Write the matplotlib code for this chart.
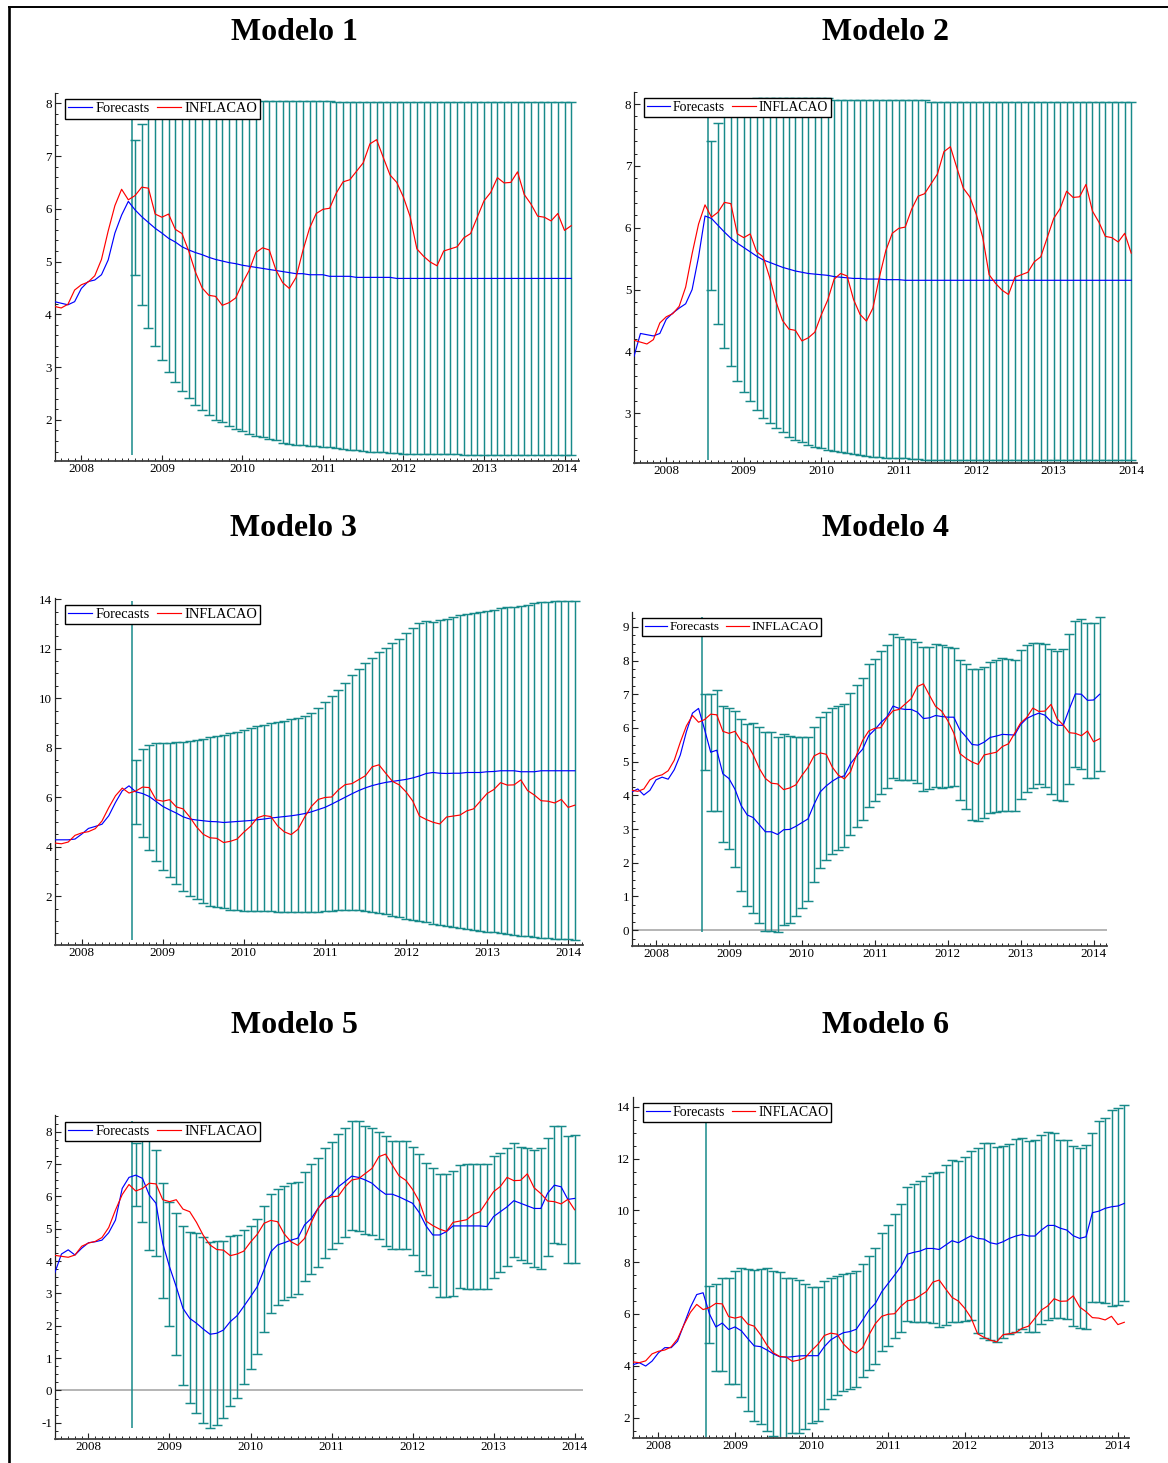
import numpy as np
import pandas as pd
import matplotlib
matplotlib.use("Agg")
import matplotlib.pyplot as plt
from matplotlib.lines import Line2D
from matplotlib.ticker import FixedLocator, MultipleLocator, FuncFormatter

plt.rcParams["font.family"] = ["Liberation Serif", "DejaVu Serif"]
plt.rcParams["axes.unicode_minus"] = False

W, H = 1168, 1463
TEAL = "#178a8a"

# IPCA 12-month inflation, Aug 2007 .. Feb 2014
inflacao = [4.18, 4.15, 4.12, 4.19, 4.46,
            4.56, 4.61, 4.73, 5.04, 5.58, 6.06, 6.37, 6.17, 6.25, 6.41, 6.39, 5.90,
            5.84, 5.90, 5.61, 5.53, 5.20, 4.80, 4.50, 4.36, 4.34, 4.17, 4.22, 4.31,
            4.59, 4.83, 5.17, 5.26, 5.22, 4.84, 4.60, 4.49, 4.70, 5.20, 5.63, 5.91,
            5.99, 6.01, 6.30, 6.51, 6.55, 6.71, 6.87, 7.23, 7.31, 6.97, 6.64, 6.50,
            6.22, 5.85, 5.24, 5.10, 4.99, 4.92, 5.20, 5.24, 5.28, 5.45, 5.53, 5.84,
            6.15, 6.31, 6.59, 6.49, 6.50, 6.70, 6.27, 6.09, 5.86, 5.84, 5.77, 5.91,
            5.59, 5.68]

# ---- Modelo 1 (Sep 2007 .. Feb 2014) ----
fit1 = [4.24, 4.21, 4.18, 4.24, 4.49, 4.62, 4.65, 4.75, 5.03, 5.54, 5.88, 6.14]
fc1 = [5.98, 5.85, 5.74, 5.63, 5.54, 5.44, 5.37, 5.28, 5.22, 5.17,
       5.13, 5.08, 5.04, 5.01, 4.98, 4.96, 4.93, 4.91, 4.89, 4.87,
       4.85, 4.83, 4.81, 4.79, 4.77, 4.77, 4.75, 4.75, 4.75, 4.72,
       4.72, 4.72, 4.72, 4.70, 4.70, 4.70, 4.70, 4.70, 4.70, 4.68,
       4.68, 4.68, 4.68, 4.68, 4.68, 4.68, 4.68, 4.68, 4.68, 4.68,
       4.68, 4.68, 4.68, 4.68, 4.68, 4.68, 4.68, 4.68, 4.68, 4.68,
       4.68, 4.68, 4.68, 4.68, 4.68, 4.68]
lo1 = [4.75, 4.18, 3.74, 3.39, 3.14, 2.90, 2.71, 2.55, 2.41, 2.28,
       2.19, 2.09, 2.00, 1.95, 1.89, 1.82, 1.78, 1.73, 1.70, 1.67,
       1.63, 1.61, 1.57, 1.54, 1.53, 1.52, 1.51, 1.50, 1.49, 1.48,
       1.46, 1.45, 1.43, 1.42, 1.41, 1.40, 1.39, 1.39, 1.38, 1.37,
       1.36, 1.36, 1.35, 1.35, 1.35, 1.35, 1.35, 1.35, 1.35, 1.34,
       1.34, 1.34, 1.34, 1.34, 1.34, 1.34, 1.34, 1.34, 1.34, 1.34,
       1.34, 1.34, 1.34, 1.34, 1.34, 1.34]
hi1 = [7.30, 7.60, 7.76, 7.90, 7.96, 8.00, 8.04, 8.05, 8.05, 8.05,
       8.05, 8.05, 8.05, 8.05, 8.05, 8.05, 8.05, 8.05, 8.05, 8.05,
       8.04, 8.04, 8.04, 8.04, 8.04, 8.04, 8.04, 8.04, 8.04, 8.04,
       8.03, 8.03, 8.03, 8.03, 8.03, 8.03, 8.03, 8.03, 8.03, 8.03,
       8.02, 8.02, 8.02, 8.02, 8.02, 8.02, 8.02, 8.02, 8.02, 8.02,
       8.02, 8.02, 8.02, 8.02, 8.02, 8.02, 8.02, 8.02, 8.02, 8.02,
       8.02, 8.02, 8.02, 8.02, 8.02, 8.02]

# ---- Modelo 2 (Aug 2007 .. Jan 2014) ----
fit2 = [3.92, 4.29, 4.27, 4.25, 4.29, 4.52, 4.62, 4.70, 4.77, 5.00, 5.53, 6.19]
fc2 = [6.15, 6.04, 5.93, 5.83, 5.75, 5.68, 5.61, 5.54, 5.48, 5.44,
       5.40, 5.36, 5.33, 5.30, 5.28, 5.26, 5.25, 5.24, 5.23, 5.21,
       5.20, 5.19, 5.18, 5.18, 5.17, 5.17, 5.17, 5.16, 5.16, 5.16,
       5.15, 5.15, 5.15, 5.15, 5.15, 5.15, 5.15, 5.15, 5.15, 5.15,
       5.15, 5.15, 5.15, 5.15, 5.15, 5.15, 5.15, 5.15, 5.15, 5.15,
       5.15, 5.15, 5.15, 5.15, 5.15, 5.15, 5.15, 5.15, 5.15, 5.15,
       5.15, 5.15, 5.15, 5.15, 5.15, 5.15]
lo2 = [5.00, 4.45, 4.06, 3.77, 3.52, 3.34, 3.19, 3.05, 2.93, 2.84,
       2.76, 2.69, 2.62, 2.57, 2.53, 2.49, 2.46, 2.43, 2.41, 2.39,
       2.37, 2.35, 2.34, 2.33, 2.31, 2.30, 2.29, 2.28, 2.28, 2.27,
       2.27, 2.26, 2.26, 2.25, 2.25, 2.25, 2.25, 2.25, 2.25, 2.25,
       2.25, 2.25, 2.25, 2.25, 2.25, 2.25, 2.25, 2.25, 2.25, 2.25,
       2.25, 2.25, 2.25, 2.25, 2.25, 2.25, 2.25, 2.25, 2.25, 2.25,
       2.25, 2.25, 2.25, 2.25, 2.25, 2.25]
hi2 = [7.41, 7.70, 7.86, 7.96, 8.02, 8.06, 8.09, 8.10, 8.10, 8.10,
       8.10, 8.10, 8.10, 8.10, 8.10, 8.10, 8.10, 8.10, 8.10, 8.07,
       8.07, 8.07, 8.07, 8.07, 8.07, 8.07, 8.07, 8.07, 8.07, 8.07,
       8.07, 8.07, 8.07, 8.07, 8.04, 8.04, 8.04, 8.04, 8.04, 8.04,
       8.04, 8.04, 8.04, 8.04, 8.04, 8.04, 8.04, 8.04, 8.04, 8.04,
       8.04, 8.04, 8.04, 8.04, 8.04, 8.04, 8.04, 8.04, 8.04, 8.04,
       8.04, 8.04, 8.04, 8.04, 8.04, 8.04]

# ---- Modelo 3 (Sep 2007 .. Feb 2014) ----
fit3 = [4.28, 4.28, 4.28, 4.31, 4.51, 4.74, 4.82, 4.91, 5.25, 5.79, 6.26, 6.46]
fc3 = [6.22, 6.15, 6.03, 5.83, 5.63, 5.49, 5.36, 5.21, 5.12, 5.08,
       5.05, 5.02, 5.01, 4.98, 5.00, 5.02, 5.04, 5.06, 5.09, 5.12,
       5.16, 5.19, 5.22, 5.25, 5.29, 5.34, 5.41, 5.50, 5.59, 5.72,
       5.86, 6.00, 6.14, 6.27, 6.38, 6.47, 6.54, 6.60, 6.64, 6.68,
       6.72, 6.78, 6.86, 6.96, 7.00, 6.97, 6.96, 6.97, 6.97, 7.00,
       7.00, 7.00, 7.03, 7.04, 7.07, 7.07, 7.07, 7.03, 7.03, 7.03,
       7.07, 7.07, 7.07, 7.07, 7.07, 7.07]
lo3 = [4.92, 4.38, 3.87, 3.43, 3.07, 2.76, 2.49, 2.22, 2.02, 1.89,
       1.73, 1.62, 1.55, 1.51, 1.46, 1.45, 1.42, 1.42, 1.41, 1.41,
       1.40, 1.38, 1.38, 1.35, 1.35, 1.35, 1.35, 1.38, 1.40, 1.42,
       1.44, 1.46, 1.46, 1.46, 1.42, 1.38, 1.32, 1.28, 1.21, 1.15,
       1.08, 1.04, 0.99, 0.94, 0.88, 0.84, 0.78, 0.74, 0.70, 0.68,
       0.64, 0.61, 0.57, 0.54, 0.50, 0.47, 0.45, 0.41, 0.38, 0.35,
       0.33, 0.30, 0.29, 0.28, 0.26, 0.25]
hi3 = [7.51, 7.94, 8.13, 8.19, 8.21, 8.21, 8.22, 8.24, 8.28, 8.32,
       8.37, 8.42, 8.47, 8.52, 8.58, 8.64, 8.72, 8.80, 8.86, 8.92,
       8.98, 9.03, 9.10, 9.16, 9.22, 9.30, 9.42, 9.60, 9.85, 10.10,
       10.35, 10.62, 10.92, 11.20, 11.42, 11.64, 11.85, 12.05, 12.22, 12.40,
       12.62, 12.85, 13.05, 13.12, 13.10, 13.15, 13.22, 13.30, 13.36, 13.40,
       13.44, 13.48, 13.52, 13.58, 13.65, 13.70, 13.70, 13.73, 13.78, 13.83,
       13.87, 13.89, 13.91, 13.92, 13.93, 13.93]

# ---- Modelo 4 (Sep 2007 .. Feb 2014) ----
fit4 = [4.10, 4.19, 4.01, 4.15, 4.46, 4.54, 4.48, 4.76, 5.20, 5.89, 6.44, 6.58]
fc4 = [5.95, 5.28, 5.34, 4.64, 4.50, 4.18, 3.70, 3.42, 3.34, 3.13,
       2.92, 2.92, 2.84, 2.98, 2.99, 3.08, 3.19, 3.30, 3.73, 4.10,
       4.28, 4.42, 4.53, 4.58, 4.94, 5.17, 5.37, 5.77, 5.95, 6.16,
       6.33, 6.65, 6.58, 6.55, 6.55, 6.47, 6.28, 6.30, 6.37, 6.34,
       6.32, 6.32, 5.94, 5.74, 5.51, 5.49, 5.58, 5.72, 5.76, 5.81,
       5.80, 5.79, 6.10, 6.28, 6.37, 6.44, 6.38, 6.19, 6.08, 6.08,
       6.56, 7.01, 7.00, 6.82, 6.83, 7.00]
lo4 = [4.74, 3.54, 3.54, 2.62, 2.41, 1.87, 1.15, 0.73, 0.51, 0.22,
       -0.03, -0.03, -0.05, 0.14, 0.22, 0.43, 0.66, 0.88, 1.42, 1.85,
       2.09, 2.26, 2.39, 2.46, 2.82, 3.05, 3.26, 3.65, 3.83, 4.04,
       4.21, 4.51, 4.45, 4.45, 4.45, 4.38, 4.14, 4.19, 4.26, 4.22,
       4.24, 4.28, 3.85, 3.59, 3.28, 3.23, 3.33, 3.47, 3.50, 3.55,
       3.55, 3.55, 3.89, 4.10, 4.22, 4.34, 4.26, 4.04, 3.87, 3.82,
       4.33, 4.84, 4.78, 4.51, 4.53, 4.71]
hi4 = [7.01, 7.01, 7.13, 6.65, 6.60, 6.49, 6.26, 6.11, 6.16, 6.04,
       5.87, 5.87, 5.73, 5.81, 5.75, 5.72, 5.72, 5.72, 6.04, 6.34,
       6.46, 6.58, 6.66, 6.70, 7.05, 7.28, 7.47, 7.89, 8.06, 8.28,
       8.45, 8.78, 8.71, 8.64, 8.64, 8.56, 8.41, 8.41, 8.48, 8.45,
       8.39, 8.36, 8.02, 7.89, 7.74, 7.74, 7.82, 7.97, 8.02, 8.07,
       8.04, 8.02, 8.31, 8.46, 8.51, 8.53, 8.49, 8.34, 8.29, 8.33,
       8.78, 9.18, 9.22, 9.12, 9.12, 9.28]

# ---- Modelo 5 (Aug 2007 .. Jan 2014) ----
fit5 = [3.63, 4.22, 4.35, 4.19, 4.40, 4.57, 4.60, 4.65, 4.88, 5.27, 6.25, 6.59]
fc5 = [6.66, 6.56, 6.05, 5.79, 4.55, 3.83, 3.21, 2.54, 2.23, 2.08,
       1.90, 1.74, 1.77, 1.87, 2.13, 2.31, 2.60, 2.90, 3.21, 3.73,
       4.29, 4.50, 4.57, 4.65, 4.71, 5.12, 5.32, 5.63, 5.89, 6.05,
       6.30, 6.46, 6.63, 6.59, 6.51, 6.41, 6.22, 6.07, 6.07, 5.99,
       5.89, 5.79, 5.50, 5.09, 4.81, 4.81, 4.91, 5.09, 5.09, 5.09,
       5.09, 5.09, 5.07, 5.38, 5.53, 5.68, 5.87, 5.79, 5.71, 5.63,
       5.63, 6.10, 6.35, 6.30, 5.91, 5.94]
lo5 = [5.71, 5.22, 4.33, 4.16, 2.85, 2.00, 1.10, 0.18, -0.39, -0.70,
       -0.99, -1.16, -1.06, -0.85, -0.49, -0.22, 0.20, 0.66, 1.12, 1.80,
       2.39, 2.65, 2.80, 2.90, 2.99, 3.39, 3.60, 3.83, 4.11, 4.37,
       4.55, 4.74, 4.96, 4.94, 4.83, 4.81, 4.68, 4.48, 4.37, 4.37,
       4.37, 4.19, 3.70, 3.57, 3.21, 2.90, 2.88, 2.92, 3.18, 3.13,
       3.14, 3.14, 3.13, 3.47, 3.65, 3.86, 4.14, 4.04, 3.93, 3.83,
       3.76, 4.16, 4.57, 4.52, 3.93, 3.95]
hi5 = [7.64, 7.92, 7.78, 7.44, 6.41, 5.84, 5.50, 5.10, 4.89, 4.86,
       4.76, 4.60, 4.63, 4.63, 4.78, 4.81, 4.96, 5.10, 5.29, 5.71,
       6.08, 6.22, 6.33, 6.41, 6.44, 6.77, 6.99, 7.18, 7.49, 7.69,
       7.92, 8.13, 8.34, 8.33, 8.18, 8.13, 8.00, 7.87, 7.72, 7.72,
       7.72, 7.52, 7.30, 7.04, 6.87, 6.71, 6.71, 6.79, 6.97, 6.99,
       7.02, 6.99, 6.99, 7.26, 7.36, 7.49, 7.64, 7.52, 7.49, 7.44,
       7.49, 7.80, 8.19, 8.19, 7.87, 7.90]

# ---- Modelo 6 (Sep 2007 .. Feb 2014) ----
fit6 = [4.04, 4.12, 3.99, 4.18, 4.50, 4.70, 4.70, 4.95, 5.60, 6.25, 6.75, 6.82]
fc6 = [6.00, 5.50, 5.65, 5.40, 5.50, 5.35, 5.05, 4.77, 4.74, 4.61,
       4.46, 4.35, 4.33, 4.35, 4.38, 4.39, 4.39, 4.39, 4.74, 5.00,
       5.15, 5.28, 5.32, 5.41, 5.77, 6.15, 6.41, 6.86, 7.18, 7.50,
       7.83, 8.31, 8.38, 8.43, 8.53, 8.53, 8.49, 8.66, 8.83, 8.75,
       8.89, 9.02, 8.92, 8.89, 8.75, 8.70, 8.79, 8.92, 9.01, 9.07,
       9.01, 9.01, 9.24, 9.42, 9.42, 9.31, 9.24, 9.02, 8.92, 8.98,
       9.91, 9.97, 10.08, 10.14, 10.17, 10.27]
lo6 = [4.87, 3.80, 3.80, 3.30, 3.30, 2.78, 2.26, 1.87, 1.74, 1.49,
       1.27, 1.10, 1.15, 1.40, 1.42, 1.55, 1.78, 1.87, 2.32, 2.71,
       2.87, 3.03, 3.11, 3.20, 3.56, 3.84, 4.07, 4.57, 4.78, 5.06,
       5.29, 5.72, 5.68, 5.68, 5.68, 5.64, 5.51, 5.58, 5.70, 5.68,
       5.72, 5.77, 5.25, 5.06, 5.00, 4.91, 5.06, 5.23, 5.32, 5.41,
       5.32, 5.29, 5.60, 5.77, 5.83, 5.83, 5.81, 5.54, 5.45, 5.41,
       6.45, 6.45, 6.41, 6.31, 6.35, 6.50]
hi6 = [7.09, 7.14, 7.38, 7.38, 7.66, 7.79, 7.72, 7.68, 7.74, 7.79,
       7.66, 7.61, 7.38, 7.40, 7.31, 7.14, 7.05, 7.05, 7.29, 7.38,
       7.48, 7.53, 7.59, 7.65, 7.93, 8.25, 8.53, 9.11, 9.43, 9.88,
       10.24, 10.91, 11.02, 11.14, 11.34, 11.43, 11.49, 11.75, 11.94, 11.90,
       12.07, 12.29, 12.42, 12.61, 12.59, 12.43, 12.48, 12.56, 12.74, 12.78,
       12.68, 12.71, 12.91, 13.04, 12.97, 12.71, 12.71, 12.48, 12.42, 12.52,
       13.00, 13.46, 13.55, 13.87, 13.94, 14.06]

panels = [
    dict(title="Modelo 1", start="2007-09", fit=fit1, fc=fc1, lo=lo1, hi=hi1,
         box=(54.5, 92.7, 579, 461), xmax=2014.18, ylim=(1.22, 8.2),
         ystep=1, minor=0.2, zero=False, leg=10.4),
    dict(title="Modelo 2", start="2007-08", fit=fit2, fc=fc2, lo=lo2, hi=hi2,
         box=(634, 91.7, 1136.6, 462.7), xmax=2014.07, ylim=(2.2, 8.2),
         ystep=1, minor=0.2, zero=False, leg=9.9),
    dict(title="Modelo 3", start="2007-09", fit=fit3, fc=fc3, lo=lo3, hi=hi3,
         box=(54.7, 598, 582.7, 945), xmax=2014.18, ylim=(0.03, 14.05),
         ystep=2, minor=0.5, zero=False, leg=10.4),
    dict(title="Modelo 4", start="2007-09", fit=fit4, fc=fc4, lo=lo4, hi=hi4,
         box=(631.7, 611.7, 1106.7, 946), xmax=2014.18, ylim=(-0.47, 9.45),
         ystep=1, minor=0.25, zero=True, leg=9.5),
    dict(title="Modelo 5", start="2007-08", fit=fit5, fc=fc5, lo=lo5, hi=hi5,
         box=(54.7, 1115, 582.7, 1439), xmax=2014.1, ylim=(-1.5, 8.52),
         ystep=1, minor=0.25, zero=True, leg=10.4),
    dict(title="Modelo 6", start="2007-09", fit=fit6, fc=fc6, lo=lo6, hi=hi6,
         box=(632.9, 1096.7, 1129.4, 1438.3), xmax=2014.15, ylim=(1.2, 14.39),
         ystep=2, minor=0.5, zero=False, leg=10.0),
]

title_pos = [(294, 40.5), (886, 40.5), (294, 536), (886, 536), (294, 1033), (886, 1033)]

fig = plt.figure(figsize=(W / 100, H / 100), dpi=100)
fig.patch.set_facecolor("white")

# outer frame: left and top rules
fig.add_artist(Line2D([8.7 / W, 8.7 / W], [0, 1 - 6.5 / H], transform=fig.transFigure,
                      color="black", lw=1.9, solid_capstyle="butt"))
fig.add_artist(Line2D([7.5 / W, 1], [1 - 6.5 / H, 1 - 6.5 / H], transform=fig.transFigure,
                      color="black", lw=1.4, solid_capstyle="butt"))

for p, (tx, ty) in zip(panels, title_pos):
    l, t, r, b = p["box"]
    ax = fig.add_axes([l / W, 1 - b / H, (r - l) / W, (b - t) / H])

    months = pd.period_range(p["start"], periods=78, freq="M")
    x = np.asarray(months.year + (months.month - 1) / 12.0, dtype=float)
    off = 1 if p["start"] == "2007-09" else 0
    infl = np.array(inflacao[off:off + 78])
    blue = np.array(p["fit"] + p["fc"])
    fc = np.array(p["fc"])
    lo = np.array(p["lo"])
    hi = np.array(p["hi"])
    xf = x[12:]

    if p["zero"]:
        ax.axhline(0, color="#b4b4b4", lw=1.4, zorder=1)

    # forecast origin marker, spanning the band range
    split = (x[11] + x[12]) / 2
    ax.vlines(split, lo.min(), hi.max(), color=TEAL, lw=1.1, zorder=2)

    ax.errorbar(xf, fc, yerr=[fc - lo, hi - fc], fmt="none", ecolor=TEAL,
                elinewidth=1.05, capsize=3.3, capthick=1.05, zorder=2)

    ax.plot(x, blue, color="#0000ff", lw=0.85, zorder=3, label="Forecasts")
    ax.plot(x, infl, color="#ff0000", lw=0.85, zorder=3, label="INFLACAO")

    ax.set_xlim(x[0], p["xmax"])
    ax.set_ylim(*p["ylim"])

    for side in ("top", "right"):
        ax.spines[side].set_visible(False)
    ax.spines["left"].set_color("#222222")
    ax.spines["left"].set_linewidth(0.9)
    ax.spines["bottom"].set_color("#404040")
    ax.spines["bottom"].set_linewidth(1.3)

    years = list(range(2008, 2015))
    ax.xaxis.set_major_locator(FixedLocator(years))
    ax.xaxis.set_major_formatter(FuncFormatter(lambda v, pos: "%d" % round(v)))
    month_ticks = [yr + k / 12.0 for yr in range(2007, 2015) for k in range(12)]
    ax.xaxis.set_minor_locator(FixedLocator([m for m in month_ticks
                                             if x[0] - 1e-6 <= m <= p["xmax"]]))
    ax.yaxis.set_major_locator(MultipleLocator(p["ystep"]))
    ax.yaxis.set_minor_locator(MultipleLocator(p["minor"]))
    ax.yaxis.set_major_formatter(FuncFormatter(lambda v, pos: "%d" % round(v)))

    ax.tick_params(axis="both", which="major", direction="in", length=4.5, width=0.8,
                   color="#222222", labelsize=9.4, pad=2)
    ax.tick_params(axis="both", which="minor", direction="in", length=2.5, width=0.7,
                   color="#222222")
    ax.tick_params(axis="x", which="major", pad=1.5)
    ax.tick_params(top=False, right=False, which="both")

    ax_w = r - l
    ax_h = b - t
    leg = ax.legend(loc="upper left", bbox_to_anchor=(10 / ax_w, 1 - 6.5 / ax_h),
                    ncol=2, fontsize=p["leg"], frameon=True, fancybox=False,
                    edgecolor="black", framealpha=1, borderpad=0.22,
                    handlelength=1.7, handletextpad=0.2, columnspacing=0.5,
                    borderaxespad=0)
    leg.get_frame().set_linewidth(1.0)
    leg.set_zorder(5)

    fig.text(tx / W, 1 - ty / H, p["title"], ha="center", va="baseline",
             fontsize=23, fontweight="bold")

fig.savefig("out.png", dpi=100)
